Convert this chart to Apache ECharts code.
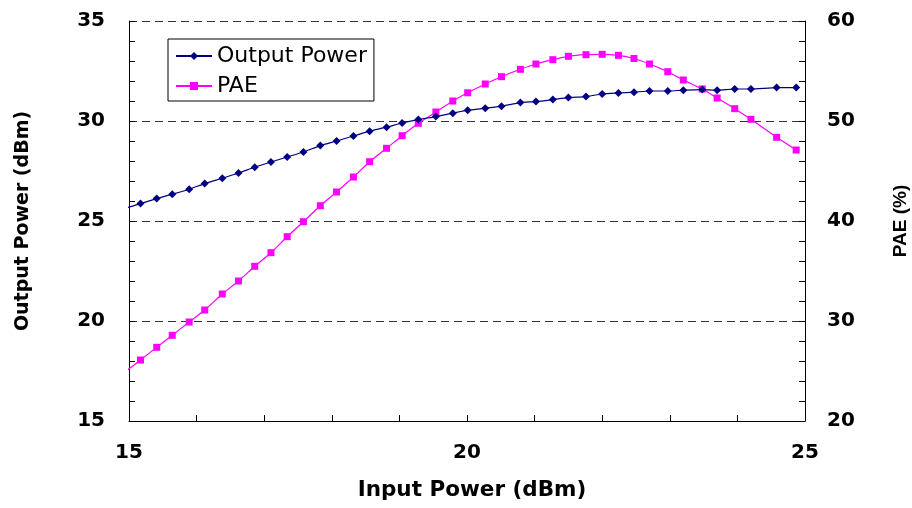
<!DOCTYPE html>
<html>
<head>
<meta charset="utf-8">
<script src="https://cdn.jsdelivr.net/npm/echarts@6/dist/echarts.min.js"></script>
<style>
html,body{margin:0;padding:0;background:#fff;}
#chart{width:912px;height:508px;}
</style>
</head>
<body>
<div id="chart"></div>
<script>
// Input power (dBm) sample points (first point lies just left of the plotted range)
var inputPower = [14.92, 15.17, 15.41, 15.64, 15.89, 16.12, 16.38, 16.62, 16.86, 17.10, 17.34, 17.58, 17.83, 18.07, 18.32, 18.56, 18.81, 19.04, 19.28, 19.54, 19.79, 20.01, 20.27, 20.51, 20.79, 21.02, 21.27, 21.50, 21.76, 22.00, 22.24, 22.47, 22.70, 22.97, 23.20, 23.48, 23.70, 23.96, 24.20, 24.58, 24.87];
// Output power (dBm)
var outputPower = [25.61, 25.87, 26.12, 26.34, 26.59, 26.87, 27.14, 27.40, 27.69, 27.95, 28.20, 28.45, 28.77, 29.00, 29.25, 29.49, 29.69, 29.90, 30.07, 30.22, 30.39, 30.54, 30.64, 30.74, 30.92, 30.97, 31.07, 31.17, 31.22, 31.35, 31.40, 31.44, 31.50, 31.50, 31.54, 31.57, 31.54, 31.60, 31.60, 31.67, 31.67];
// PAE (%)
var pae = [24.8, 26.10, 27.37, 28.57, 29.90, 31.10, 32.70, 34.00, 35.47, 36.83, 38.43, 39.93, 41.53, 42.90, 44.40, 45.93, 47.27, 48.53, 49.77, 50.90, 52.00, 52.82, 53.70, 54.43, 55.17, 55.70, 56.13, 56.47, 56.63, 56.67, 56.57, 56.25, 55.70, 54.93, 54.10, 53.20, 52.30, 51.23, 50.17, 48.37, 47.10];

var seriesNames = ['Output Power', 'PAE'];
var xAxisTitle = 'Input Power (dBm)';
var leftAxisTitle = 'Output Power (dBm)';
var rightAxisTitle = 'PAE (%)';

function pairs(xs, ys) {
  var out = [];
  for (var i = 0; i < xs.length; i++) out.push([xs[i], ys[i]]);
  return out;
}

var FONT = 'DejaVu Sans';
var labelStyle = { color: '#000', fontFamily: FONT, fontWeight: 'bold', fontSize: 20 };

var chart = echarts.init(document.getElementById('chart'), null, { renderer: 'canvas' });
chart.setOption({
  animation: false,
  backgroundColor: '#fff',
  grid: { left: 129, right: 107, top: 21, bottom: 87, containLabel: false, outerBoundsMode: 'none' },
  legend: {
    orient: 'vertical',
    left: 168,
    top: 39,
    padding: [6, 7, 4, 7],
    itemGap: 8,
    itemWidth: 36,
    itemHeight: 10,
    backgroundColor: '#fff',
    borderColor: '#000',
    borderWidth: 1,
    borderRadius: 0,
    textStyle: { color: '#000', fontFamily: FONT, fontSize: 22, lineHeight: 20 },
    data: seriesNames
  },
  xAxis: {
    type: 'value',
    min: 15,
    max: 25,
    interval: 5,
    name: xAxisTitle,
    nameLocation: 'middle',
    nameGap: 58,
    nameTextStyle: { color: '#000', fontFamily: FONT, fontWeight: 'bold', fontSize: 21.5, padding: [0, 0, 0, 10] },
    axisLine: { show: true, onZero: false, lineStyle: { color: '#000', width: 1 } },
    axisTick: { show: true, inside: true, length: 6, lineStyle: { color: '#000' } },
    minorTick: { show: true, splitNumber: 5, length: 6, lineStyle: { color: '#000' } },
    axisLabel: Object.assign({ margin: 22 }, labelStyle),
    splitLine: { show: false }
  },
  yAxis: [
    {
      type: 'value',
      position: 'left',
      min: 15,
      max: 35,
      interval: 5,
      name: leftAxisTitle,
      nameLocation: 'middle',
      nameRotate: 90,
      nameGap: 96,
      nameTextStyle: { color: '#000', fontFamily: FONT, fontWeight: 'bold', fontSize: 19 },
      axisLine: { show: true, onZero: false, lineStyle: { color: '#000', width: 1 } },
      axisTick: { show: true, inside: true, length: 6, lineStyle: { color: '#000' } },
      minorTick: { show: true, splitNumber: 5, length: 6, lineStyle: { color: '#000' } },
      axisLabel: Object.assign({ margin: 24 }, labelStyle),
      splitLine: { show: true, lineStyle: { color: '#333', type: [8, 5], width: 1 } }
    },
    {
      type: 'value',
      position: 'right',
      min: 20,
      max: 60,
      interval: 10,
      name: rightAxisTitle,
      nameLocation: 'middle',
      nameRotate: 90,
      nameGap: 86,
      nameTextStyle: { color: '#000', fontFamily: 'Liberation Sans', fontWeight: 'bold', fontSize: 19 },
      axisLine: { show: true, onZero: false, lineStyle: { color: '#000', width: 1 } },
      axisTick: { show: true, inside: true, length: 6, lineStyle: { color: '#000' } },
      minorTick: { show: true, splitNumber: 5, length: 6, lineStyle: { color: '#000' } },
      axisLabel: Object.assign({ margin: 22 }, labelStyle),
      splitLine: { show: false }
    }
  ],
  series: [
    {
      name: seriesNames[0],
      type: 'line',
      yAxisIndex: 0,
      data: pairs(inputPower, outputPower),
      smooth: 0.2,
      clip: true,
      symbol: 'diamond',
      symbolSize: [8, 8],
      showSymbol: true,
      itemStyle: { color: '#000080' },
      lineStyle: { color: '#000080', width: 1.2 },
      z: 3
    },
    {
      name: seriesNames[1],
      type: 'line',
      yAxisIndex: 1,
      data: pairs(inputPower, pae),
      smooth: 0.2,
      clip: true,
      symbol: 'rect',
      symbolSize: [7, 7],
      showSymbol: true,
      itemStyle: { color: '#ff00ff' },
      lineStyle: { color: '#ff00ff', width: 1.2 },
      z: 2
    }
  ]
});
</script>
</body>
</html>
